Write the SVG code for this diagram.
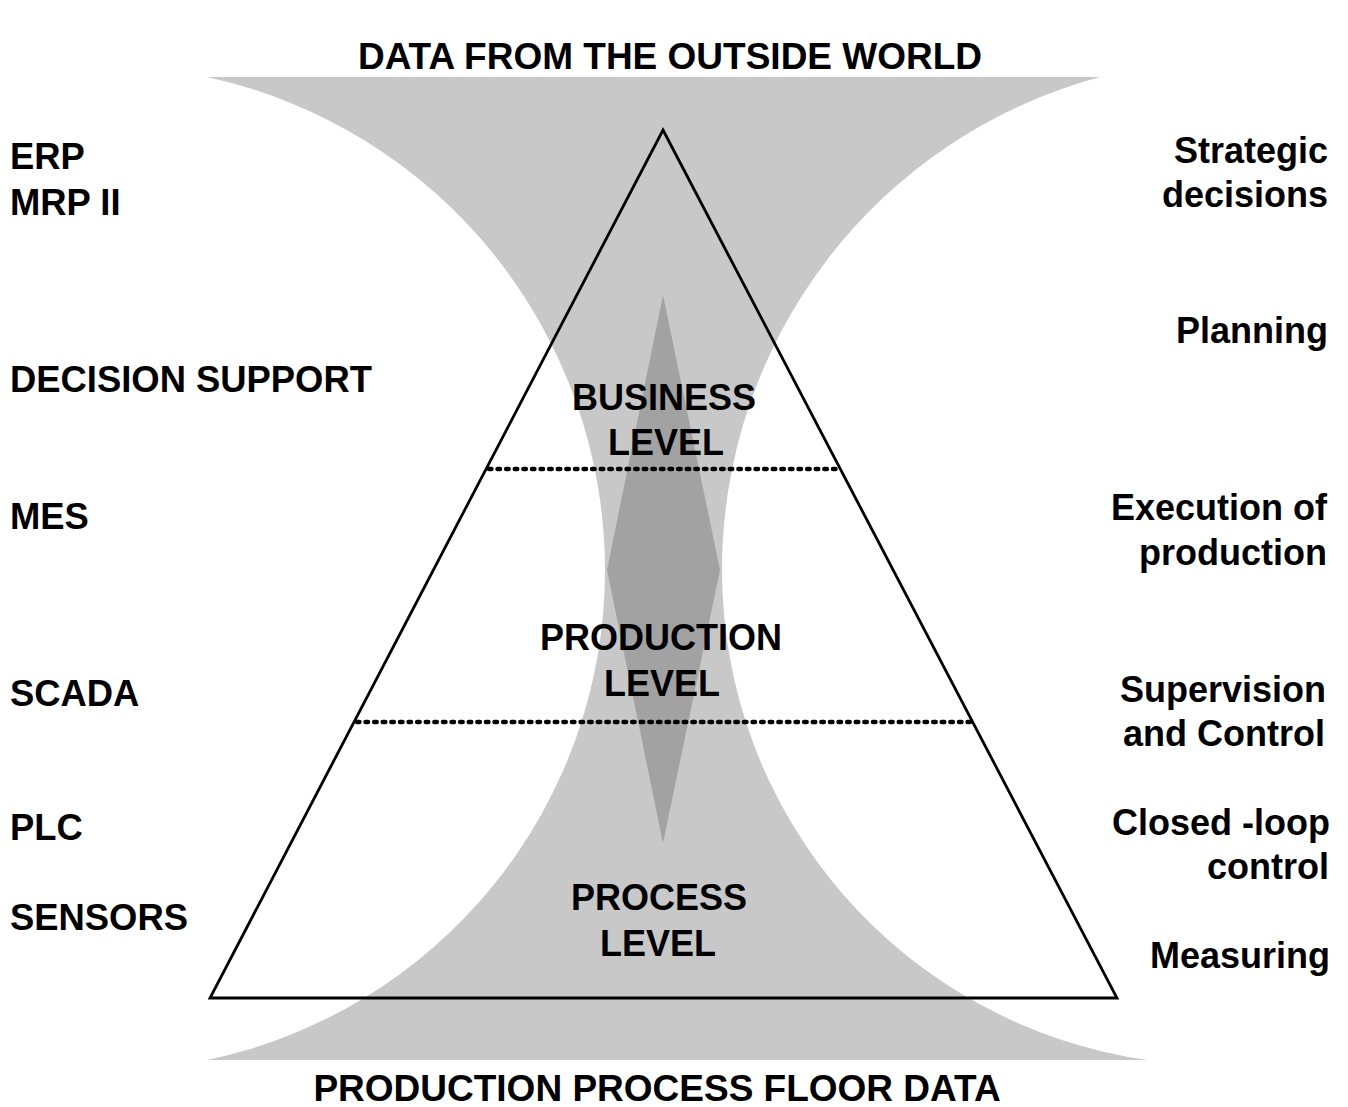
<svg xmlns="http://www.w3.org/2000/svg" width="1348" height="1107" viewBox="0 0 1348 1107">
<style>
text{font-family:"Liberation Sans",Arial,sans-serif;font-weight:bold;font-size:36px;fill:#000}
.mid{text-anchor:middle}
.end{text-anchor:end}
.title{font-size:37px}
.left{font-size:36.4px}
.tri{fill:none;stroke:#000;stroke-width:2.8;stroke-linejoin:miter}
.dots{stroke:#000;stroke-width:4.6;stroke-linecap:round;stroke-dasharray:2.4 6.2;fill:none}
</style>
<rect width="1348" height="1107" fill="#fff"/>
<g id="hourglass">
<path fill="#c8c8c8" d="M207,77 L1100,77 A510.5,510.5 0 0 0 722,570 A494.8,494.8 0 0 0 1148,1060 L207,1060 A500.5,500.5 0 0 0 605,570 A505,505 0 0 0 207,77 Z"/>
</g>
<g id="diamond">
<polygon fill="#a2a2a2" points="663,295 720,570 663,843 607,570"/>
</g>
<g id="pyramid">
<polygon class="tri" points="663,130 1117,998 210,998"/>
</g>
<g id="connectors">
<line class="dots" x1="489" y1="469" x2="837" y2="469"/>
<line class="dots" x1="357" y1="722" x2="971" y2="722"/>
</g>
<g id="title-top"><text class="mid title" x="670" y="69">DATA FROM THE OUTSIDE WORLD</text></g>
<g id="title-bottom"><text class="mid title" x="657" y="1101">PRODUCTION PROCESS FLOOR DATA</text></g>
<g id="business-level"><text class="mid" x="664" y="410">BUSINESS</text><text class="mid" x="666" y="455">LEVEL</text></g>
<g id="production-level"><text class="mid" x="661" y="650">PRODUCTION</text><text class="mid" x="662" y="696">LEVEL</text></g>
<g id="process-level"><text class="mid" x="659" y="910">PROCESS</text><text class="mid" x="658" y="956">LEVEL</text></g>
<g id="left-labels">
<g id="erp"><text class="left" x="10" y="169">ERP</text><text class="left" x="10" y="215">MRP II</text></g>
<g id="decision-support"><text class="left" x="10" y="392">DECISION SUPPORT</text></g>
<g id="mes"><text class="left" x="10" y="529">MES</text></g>
<g id="scada"><text class="left" x="10" y="706">SCADA</text></g>
<g id="plc"><text class="left" x="10" y="840">PLC</text></g>
<g id="sensors"><text class="left" x="10" y="930">SENSORS</text></g>
</g>
<g id="right-labels">
<g id="strategic"><text class="end" x="1328" y="163">Strategic</text><text class="end" x="1328" y="207">decisions</text></g>
<g id="planning"><text class="end" x="1328" y="343">Planning</text></g>
<g id="execution"><text class="end" x="1327" y="520">Execution of</text><text class="end" x="1327" y="565">production</text></g>
<g id="supervision"><text class="end" x="1326" y="702">Supervision</text><text class="end" x="1325" y="746">and Control</text></g>
<g id="closed-loop"><text class="end" x="1330" y="835">Closed -loop</text><text class="end" x="1329" y="879">control</text></g>
<g id="measuring"><text class="end" x="1330" y="968">Measuring</text></g>
</g>
</svg>
